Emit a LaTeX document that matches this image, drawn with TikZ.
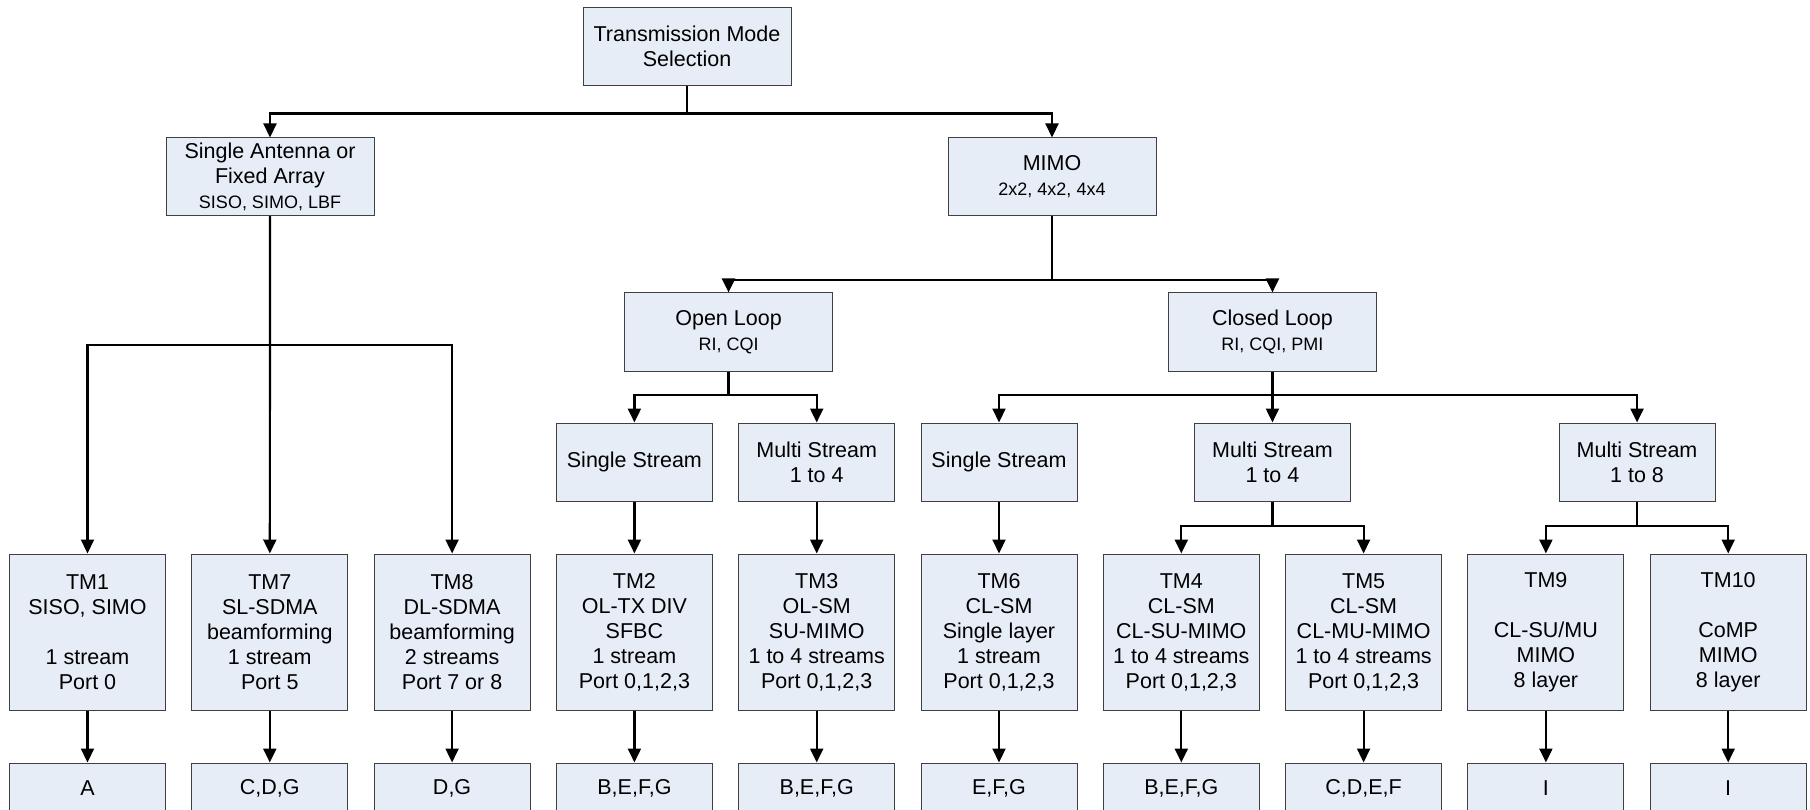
\documentclass[tikz,border=0pt]{standalone}
\usepackage{fontspec}
\setmainfont{Liberation Sans}
\usetikzlibrary{arrows.meta,positioning,calc}
\definecolor{boxblue}{RGB}{231,237,247}
\newcommand{\mainsize}{\fontsize{21.5}{25}\selectfont}
\newcommand{\subsize}{\fontsize{18}{22}\selectfont}

\begin{document}
\begin{tikzpicture}[x=1pt, y=1pt, node distance=25.3pt, every node/.style={font=\mainsize},
		box/.style={draw=black!75, line width=1pt, fill=boxblue, align=center, inner sep=2pt},
		wbox/.style={box, minimum width=208pt, minimum height=78pt},
		sbox/.style={box, minimum width=156pt, minimum height=78pt},
		tmbox/.style={box, minimum width=156pt, minimum height=156pt},
		lbox/.style={box, minimum width=156pt, minimum height=50pt},
		link/.style={line width=2.2pt, -{Triangle[width=13pt,length=14pt]}}]
	\clip (0,0) rectangle (1810,-810);
	% transmission modes
	\node[tmbox] (tm1) at (87.5,-632) {TM1\\SISO, SIMO\\\mbox{}\\1 stream\\Port 0};
	\node[tmbox, right=of tm1] (tm7) {TM7\\SL-SDMA\\beamforming\\1 stream\\Port 5};
	\node[tmbox, right=of tm7] (tm8) {TM8\\DL-SDMA\\beamforming\\2 streams\\Port 7 or 8};
	\node[tmbox, right=of tm8] (tm2) {TM2\\OL-TX DIV\\SFBC\\1 stream\\Port 0,1,2,3};
	\node[tmbox, right=of tm2] (tm3) {TM3\\OL-SM\\SU-MIMO\\1 to 4 streams\\Port 0,1,2,3};
	\node[tmbox, right=of tm3] (tm6) {TM6\\CL-SM\\Single layer\\1 stream\\Port 0,1,2,3};
	\node[tmbox, right=of tm6] (tm4) {TM4\\CL-SM\\CL-SU-MIMO\\1 to 4 streams\\Port 0,1,2,3};
	\node[tmbox, right=of tm4] (tm5) {TM5\\CL-SM\\CL-MU-MIMO\\1 to 4 streams\\Port 0,1,2,3};
	\node[tmbox, right=of tm5] (tm9) {TM9\\\mbox{}\\CL-SU/MU\\MIMO\\8 layer};
	\node[tmbox, right=of tm9] (tm10) {TM10\\\mbox{}\\CoMP\\MIMO\\8 layer};
	% feedback letters
	\node[lbox, below=52pt of tm1] (l1) {A};
	\node[lbox, below=52pt of tm7] (l7) {C,D,G};
	\node[lbox, below=52pt of tm8] (l8) {D,G};
	\node[lbox, below=52pt of tm2] (l2) {B,E,F,G};
	\node[lbox, below=52pt of tm3] (l3) {B,E,F,G};
	\node[lbox, below=52pt of tm6] (l6) {E,F,G};
	\node[lbox, below=52pt of tm4] (l4) {B,E,F,G};
	\node[lbox, below=52pt of tm5] (l5) {C,D,E,F};
	\node[lbox, below=52pt of tm9] (l9) {I};
	\node[lbox, below=52pt of tm10] (l10) {I};
	% streams
	\coordinate (m45) at ($(tm4.north)!0.5!(tm5.north)$);
	\coordinate (m910) at ($(tm9.north)!0.5!(tm10.north)$);
	\node[sbox, above=52pt of tm2] (ssol) {Single Stream};
	\node[sbox, above=52pt of tm3] (msol) {Multi Stream\\1 to 4};
	\node[sbox, above=52pt of tm6] (sscl) {Single Stream};
	\node[sbox, above=52pt of m45] (mscl) {Multi Stream\\1 to 4};
	\node[sbox, above=52pt of m910] (ms8) {Multi Stream\\1 to 8};
	% loops
	\coordinate (mol) at ($(ssol.north)!0.5!(msol.north)$);
	\node[wbox, above=51pt of mol, xshift=3pt] (ol) {Open Loop\\{\subsize RI, CQI}};
	\node[wbox, above=51pt of mscl] (cl) {Closed Loop\\{\subsize RI, CQI, PMI}};
	% antenna types
	\node[wbox] (sa) at (270,-177) {Single Antenna or\\Fixed Array\\{\subsize SISO, SIMO, LBF}};
	\node[wbox] (mimo) at (1052,-177) {MIMO\\{\subsize 2x2, 4x2, 4x4}};
	\node[wbox] (tms) at (687,-46.5) {Transmission Mode\\Selection};
	% connectors
	\draw[link] (tms) -- ++(0,-67) -| (sa);
	\draw[link] (tms) -- ++(0,-67) -| (mimo);
	\draw[link] (mimo) -- ++(0,-103) -| (ol);
	\draw[link] (mimo) -- ++(0,-103) -| (cl);
	\draw[link] (sa) -- ++(0,-168) -| (tm1);
	\draw[link] (sa) -- ++(0,-168) -| (tm8);
	\draw[link] (sa) -- (tm7);
	\draw[link] (ol) -- ++(0,-63) -| (ssol);
	\draw[link] (ol) -- ++(0,-63) -| (msol);
	\draw[link] (cl) -- ++(0,-63) -| (sscl);
	\draw[link] (cl) -- ++(0,-63) -| (ms8);
	\draw[link] (cl) -- (mscl);
	\draw[link] (ssol) -- (tm2);
	\draw[link] (msol) -- (tm3);
	\draw[link] (sscl) -- (tm6);
	\draw[link] (mscl) -- ++(0,-64) -| (tm4);
	\draw[link] (mscl) -- ++(0,-64) -| (tm5);
	\draw[link] (ms8) -- ++(0,-64) -| (tm9);
	\draw[link] (ms8) -- ++(0,-64) -| (tm10);
	\foreach \t in {1,7,8,2,3,6,4,5,9,10}
		\draw[link] (tm\t) -- (l\t);
\end{tikzpicture}
\end{document}
